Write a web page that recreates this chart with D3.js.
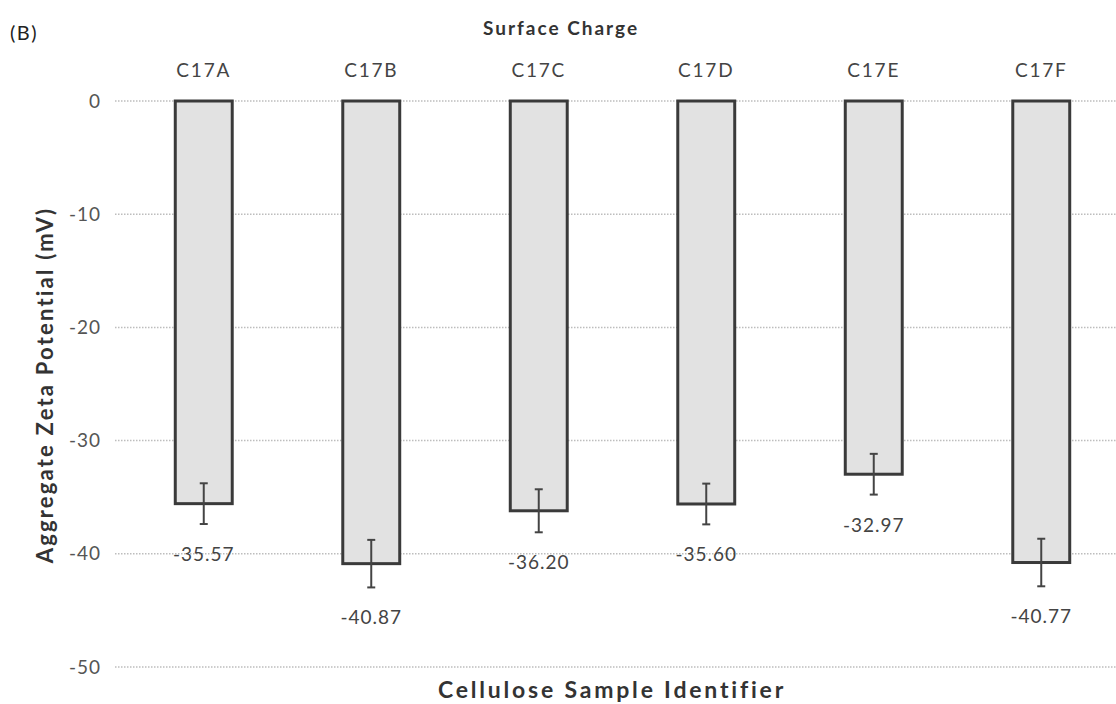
<!DOCTYPE html>
<html>
<head>
<meta charset="utf-8">
<script src="https://cdn.jsdelivr.net/npm/d3@7"></script>
<style>
  html, body { margin: 0; padding: 0; background: #fff; }
  svg { display: block; font-family: Lato, "Open Sans", sans-serif; }
</style>
</head>
<body>
<svg id="chart" width="1116" height="704"></svg>
<script>
// Aggregate zeta potential per cellulose sample
const samples = ["C17A", "C17B", "C17C", "C17D", "C17E", "C17F"];
const zeta = [-35.57, -40.87, -36.20, -35.60, -32.97, -40.77];
const zetaErr = [1.8, 2.1, 1.9, 1.8, 1.8, 2.1];
const yTicks = [0, -10, -20, -30, -40, -50];

const svg = d3.select("#chart");
const ink = "#333";

const x = d3.scaleBand().domain(samples).range([120, 1125]).paddingInner(0.66).paddingOuter(0.33);
const y = d3.scaleLinear().domain([0, -50]).range([101, 667]);

// horizontal gridlines
svg.append("g").selectAll("line").data(yTicks).join("line")
  .attr("x1", 115).attr("x2", 1116)
  .attr("y1", d => y(d)).attr("y2", d => y(d))
  .attr("stroke", "#bdbdbd").attr("stroke-width", 1.5)
  .attr("stroke-dasharray", "1.5,1.5");

// y axis tick labels
const yAxis = d3.axisLeft(y).tickValues(yTicks).tickSize(0).tickPadding(0)
  .tickFormat(d => d === 0 ? "0" : "-" + Math.abs(d));
const gy = svg.append("g").attr("transform", "translate(101,0)").call(yAxis);
gy.select(".domain").remove();
gy.selectAll("text").attr("font-size", 19).attr("letter-spacing", 1)
  .attr("fill", "#555").attr("font-family", "Lato, sans-serif");

// category labels across the top
const xAxis = d3.axisTop(x).tickSize(0).tickPadding(0);
const gx = svg.append("g").attr("transform", "translate(0,77)").call(xAxis);
gx.select(".domain").remove();
gx.selectAll("text").attr("font-size", 19).attr("letter-spacing", 1.8)
  .attr("fill", "#444").attr("font-family", "Lato, sans-serif");

// bars hanging from zero
svg.append("g").selectAll("rect").data(samples).join("rect")
  .attr("x", d => x(d))
  .attr("y", y(0))
  .attr("width", x.bandwidth())
  .attr("height", (d, i) => y(zeta[i]) - y(0))
  .attr("fill", "#e2e2e2")
  .attr("stroke", "#3a3a3a")
  .attr("stroke-width", 3);

// error bars
const eg = svg.append("g").attr("stroke", "#444").attr("stroke-width", 2);
samples.forEach((s, i) => {
  const cx = x(s) + x.bandwidth() / 2;
  const lo = y(zeta[i] - zetaErr[i]);
  const hi = y(zeta[i] + zetaErr[i]);
  eg.append("line").attr("x1", cx).attr("x2", cx).attr("y1", hi).attr("y2", lo);
  eg.append("line").attr("x1", cx - 4).attr("x2", cx + 4).attr("y1", hi).attr("y2", hi);
  eg.append("line").attr("x1", cx - 4).attr("x2", cx + 4).attr("y1", lo).attr("y2", lo);
});

// value labels under each bar
svg.append("g").selectAll("text").data(samples).join("text")
  .attr("x", d => x(d) + x.bandwidth() / 2)
  .attr("y", (d, i) => y(zeta[i] - zetaErr[i]) + 37)
  .attr("text-anchor", "middle")
  .attr("font-size", 19)
  .attr("letter-spacing", 1)
  .attr("fill", "#444")
  .text((d, i) => zeta[i].toFixed(2));

// titles
svg.append("text").attr("x", 561).attr("y", 35).attr("text-anchor", "middle")
  .attr("font-size", 19).attr("font-weight", "bold").attr("letter-spacing", 2)
  .attr("fill", ink).text("Surface Charge");
svg.append("text").attr("x", 612).attr("y", 698).attr("text-anchor", "middle")
  .attr("font-size", 23).attr("font-weight", "bold").attr("letter-spacing", 2.8)
  .attr("fill", ink).text("Cellulose Sample Identifier");
svg.append("text").attr("transform", "translate(53,385) rotate(-90)").attr("text-anchor", "middle")
  .attr("font-size", 22).attr("font-weight", "bold").attr("letter-spacing", 2.2)
  .attr("fill", ink).text("Aggregate Zeta Potential (mV)");
svg.append("text").attr("x", 10).attr("y", 40)
  .attr("font-size", 20).attr("letter-spacing", 1.5).attr("fill", "#222").text("(B)");
</script>
</body>
</html>
